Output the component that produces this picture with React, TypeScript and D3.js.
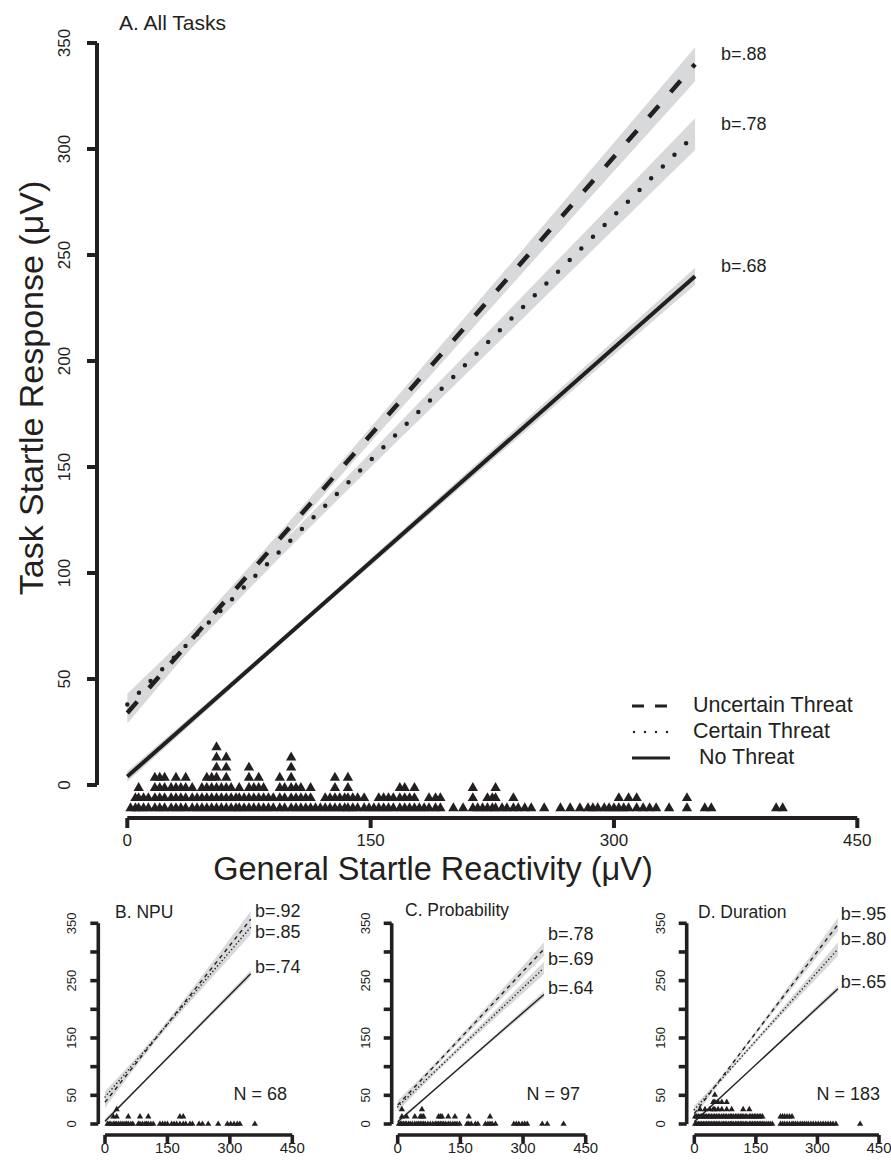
import React from "react";
import * as d3 from "d3";

const W = 891;
const H = 1163;
const FONT = "'Liberation Sans', Arial, Helvetica, sans-serif";
const INK = "#231f20";
const BAND = "#d8d9da";

// regression lines: fitted values at x = 0 and x = 350
const lineX = [0, 350];
const bandX = [0, 100, 200, 350];
const seriesNames = ["Uncertain Threat", "Certain Threat", "No Threat"];
const legendLabels = ["Uncertain Threat", "Certain Threat", " No Threat"];

const allUncertain = [34, 340];
const allCertain = [38, 307];
const allNone = [4, 240];
const allCI = [
  [5, 3, 4.5, 8],
  [5, 3, 4.5, 7.5],
  [2.5, 1.4, 2.2, 4],
];
const allSlopes = ["b=.88", "b=.78", "b=.68"];

const npuUncertain = [38, 357];
const npuCertain = [47, 343];
const npuNone = [5, 262];
const npuCI = [
  [10, 5, 7, 14],
  [10, 5, 7, 13],
  [4, 2, 3, 6],
];
const npuSlopes = ["b=.92", "b=.85", "b=.74"];

const probUncertain = [33, 305];
const probCertain = [30, 272];
const probNone = [4, 226];
const probCI = [
  [8, 4, 6, 12],
  [8, 4, 6, 11],
  [4, 2, 3, 6],
];
const probSlopes = ["b=.78", "b=.69", "b=.64"];

const durUncertain = [18, 348];
const durCertain = [25, 305];
const durNone = [4, 236];
const durCI = [
  [7, 3, 5, 12],
  [7, 3, 5, 12],
  [3, 1.5, 2.5, 5],
];
const durSlopes = ["b=.95", "b=.80", "b=.65"];

const xTicksMain = [0, 150, 300, 450];
const yTicksMain = [0, 50, 100, 150, 200, 250, 300, 350];
const yTickLabelsSmall = [0, 50, 150, 250, 350];

// general startle reactivity, stacked: [value, count]
const rugAll = [
  [2, 1], [5, 2], [7, 3], [10, 2], [13, 2], [17, 4], [20, 4], [23, 4], [27, 3], [30, 4],
  [33, 3], [36, 4], [40, 3], [43, 2], [46, 3], [49, 4], [52, 4], [55, 7], [58, 3], [61, 6],
  [64, 3], [67, 2], [69, 3], [72, 2], [75, 5], [78, 3], [81, 4], [84, 3], [87, 2], [90, 2],
  [94, 4], [97, 3], [101, 6], [104, 3], [107, 3], [110, 2], [113, 3], [116, 1], [119, 1],
  [122, 2], [125, 2], [128, 4], [131, 2], [134, 2], [136, 4], [139, 2], [142, 2], [146, 2],
  [149, 1], [152, 1], [155, 2], [158, 2], [161, 2], [164, 2], [168, 3], [171, 3], [174, 2],
  [177, 3], [180, 1], [183, 1], [186, 2], [190, 2], [193, 2], [201, 1], [207, 1], [213, 3],
  [216, 1], [219, 1], [222, 2], [225, 2], [227, 3], [231, 1], [234, 1], [238, 2], [241, 1],
  [245, 1], [249, 1], [257, 1], [267, 1], [273, 1], [279, 1], [284, 1], [287, 1], [290, 1],
  [294, 1], [297, 1], [300, 1], [303, 2], [306, 1], [309, 2], [314, 2], [318, 1], [322, 1],
  [326, 1], [334, 1], [345, 2], [356, 1], [360, 1], [400, 1], [404, 1],
];
const rugNpu = [
  [6, 1], [10, 1], [14, 1], [20, 2], [24, 1], [28, 3], [33, 1], [38, 1], [43, 1], [48, 1],
  [52, 1], [56, 2], [62, 1], [67, 1], [80, 1], [84, 2], [90, 1], [96, 1], [100, 1], [104, 2],
  [110, 1], [116, 1], [132, 1], [138, 1], [144, 1], [150, 1], [160, 1], [166, 1], [172, 1],
  [180, 2], [188, 2], [194, 1], [204, 1], [210, 1], [226, 1], [234, 1], [248, 1], [272, 1],
  [294, 1], [302, 1], [310, 1], [318, 1], [324, 1], [360, 1],
];
const rugProb = [
  [3, 1], [7, 1], [10, 3], [14, 1], [18, 1], [21, 2], [26, 1], [30, 1], [35, 1], [41, 2],
  [46, 1], [50, 1], [54, 2], [58, 3], [62, 2], [66, 1], [72, 1], [78, 1], [84, 1], [90, 1],
  [94, 1], [98, 2], [102, 2], [106, 2], [110, 1], [115, 1], [121, 2], [126, 1], [132, 1],
  [137, 2], [142, 1], [148, 1], [166, 1], [170, 2], [176, 1], [186, 1], [192, 1], [210, 1],
  [216, 1], [221, 2], [226, 1], [234, 1], [278, 1], [284, 1], [290, 1], [298, 1], [304, 1],
  [310, 1], [346, 1], [358, 1], [397, 1],
];
const rugDur = [
  [2, 2], [6, 2], [10, 2], [14, 3], [18, 2], [22, 2], [26, 3], [30, 2], [34, 2], [38, 3],
  [42, 2], [46, 4], [50, 5], [54, 2], [58, 4], [62, 2], [67, 4], [71, 2], [75, 2], [79, 4],
  [84, 2], [88, 2], [91, 3], [95, 2], [100, 2], [104, 2], [108, 2], [112, 2], [116, 2],
  [119, 3], [124, 2], [128, 2], [134, 3], [138, 2], [142, 2], [146, 2], [150, 2], [154, 2],
  [158, 2], [162, 2], [166, 2], [170, 1], [175, 1], [180, 1], [185, 1], [190, 1], [210, 2],
  [215, 2], [220, 2], [226, 2], [232, 2], [238, 2], [242, 1], [247, 1], [252, 1], [258, 1],
  [263, 1], [268, 1], [273, 1], [278, 1], [284, 1], [290, 1], [296, 1], [302, 1], [308, 1],
  [314, 1], [320, 1], [326, 1], [332, 1], [338, 1], [345, 1], [404, 1],
];

type PanelProps = {
  big: boolean;
  title: string;
  titleX: number;
  titleY: number;
  axisX: number;
  xRange: [number, number];
  yRange: [number, number];
  xAxisY: number;
  lines: number[][];
  ci: number[][];
  slopes: string[];
  slopeX: number;
  slopeY: number[];
  rug: number[][];
  rugBase: number;
  rugStep: number;
  n?: string;
  nX?: number;
};

function Panel(p: PanelProps) {
  const x = d3.scaleLinear().domain([0, 450]).range(p.xRange);
  const y = d3.scaleLinear().domain([0, 350]).range(p.yRange);
  const styles = p.big
    ? [
        { dash: "15 18", cap: "butt", w: 4.5 },
        { dash: "0 16.5", cap: "round", w: 4.5 },
        { dash: "", cap: "butt", w: 4 },
      ]
    : [
        { dash: "4 4", cap: "butt", w: 1.4 },
        { dash: "0 3.6", cap: "round", w: 1.6 },
        { dash: "", cap: "butt", w: 1.4 },
      ];
  const interp = (vals: number[], t: number) =>
    vals[0] + ((vals[1] - vals[0]) * (t - lineX[0])) / (lineX[1] - lineX[0]);
  const area = d3
    .area<[number, number, number]>()
    .x((d) => x(d[0]))
    .y0((d) => y(d[1] - d[2]))
    .y1((d) => y(d[1] + d[2]))
    .curve(d3.curveMonotoneX);
  const ln = d3
    .line<number>()
    .x((_, i) => x(lineX[i]))
    .y((d) => y(d));
  const tri = d3.symbol(d3.symbolTriangle, p.big ? 46 : 17)();
  const tickFs = p.big ? 17 : 13;
  const xTickFs = p.big ? 17 : 15;
  const yLabels = p.big ? yTicksMain : yTickLabelsSmall;
  const axW = p.big ? 4 : 3.6;
  const tickLen = p.big ? 10 : 8;

  return (
    <g fontFamily={FONT} fill={INK}>
      {p.lines.map((vals, i) => (
        <path
          key={"b" + i}
          d={area(bandX.map((bx, j) => [bx, interp(vals, bx), p.ci[i][j]]) as any) || ""}
          fill={BAND}
          stroke="none"
        />
      ))}
      {p.lines.map((vals, i) => (
        <path
          key={"l" + i}
          d={ln(vals) || ""}
          fill="none"
          stroke={INK}
          strokeWidth={styles[i].w}
          strokeDasharray={styles[i].dash || undefined}
          strokeLinecap={styles[i].cap as any}
        />
      ))}
      {p.rug.map(([v, c]) =>
        d3.range(c).map((k) => (
          <path
            key={"r" + v + "-" + k}
            d={tri || ""}
            transform={`translate(${x(v)},${y(p.rugBase + k * p.rugStep)})`}
            fill={INK}
          />
        ))
      )}
      {/* y axis */}
      <line x1={p.axisX} x2={p.axisX} y1={y(0)} y2={y(350)} stroke={INK} strokeWidth={axW} />
      {yTicksMain.map((t) => (
        <line key={"yt" + t} x1={p.axisX - tickLen} x2={p.axisX} y1={y(t)} y2={y(t)} stroke={INK} strokeWidth={axW} />
      ))}
      {yLabels.map((t) => (
        <text
          key={"yl" + t}
          transform={`translate(${p.axisX - (p.big ? 27 : 22)},${y(t)}) rotate(-90)`}
          textAnchor="middle"
          fontSize={tickFs}
        >
          {t}
        </text>
      ))}
      {/* x axis */}
      <line x1={x(0)} x2={x(450)} y1={p.xAxisY} y2={p.xAxisY} stroke={INK} strokeWidth={axW} />
      {xTicksMain.map((t) => (
        <line key={"xt" + t} x1={x(t)} x2={x(t)} y1={p.xAxisY} y2={p.xAxisY + tickLen} stroke={INK} strokeWidth={axW} />
      ))}
      {xTicksMain.map((t) => (
        <text
          key={"xl" + t}
          x={x(t)}
          y={p.xAxisY + (p.big ? 28 : 18)}
          textAnchor="middle"
          fontSize={xTickFs}
        >
          {t}
        </text>
      ))}
      <text x={p.titleX} y={p.titleY} fontSize={p.big ? 21 : 17.5}>
        {p.title}
      </text>
      {p.slopes.map((s, i) => (
        <text key={"s" + i} x={p.slopeX} y={p.slopeY[i]} fontSize={18} dominantBaseline="middle">
          {s}
        </text>
      ))}
      {p.n && (
        <text x={p.nX} y={1095} fontSize={18} textAnchor="end" dominantBaseline="middle">
          {p.n}
        </text>
      )}
    </g>
  );
}

function Legend() {
  const sx = 632;
  const ex = 670;
  const ys = [706, 732, 758];
  const dashes = ["12 11", "0 11", ""];
  return (
    <g fontFamily={FONT} fill={INK}>
      {seriesNames.map((s, i) => (
        <g key={s}>
          <line
            x1={i === 1 ? sx + 2 : sx}
            x2={ex}
            y1={ys[i]}
            y2={ys[i]}
            stroke={INK}
            strokeWidth={i === 1 ? 2.4 : 3}
            strokeDasharray={dashes[i] || undefined}
            strokeLinecap={i === 1 ? "round" : "butt"}
          />
          <text x={693} y={ys[i]} fontSize={21.5} dominantBaseline="middle" style={{ whiteSpace: "pre" }}>
            {legendLabels[i]}
          </text>
        </g>
      ))}
    </g>
  );
}

export default function App() {
  return (
    <svg
      width={W}
      height={H}
      viewBox={`0 0 ${W} ${H}`}
      style={{ position: "absolute", left: 0, top: 0, background: "#fff" }}
    >
      <rect width={W} height={H} fill="#fff" />
      <Panel
        big
        title="A. All Tasks"
        titleX={119}
        titleY={30}
        axisX={97}
        xRange={[127.3, 857.3]}
        yRange={[785, 43]}
        xAxisY={818}
        lines={[allUncertain, allCertain, allNone]}
        ci={allCI}
        slopes={allSlopes}
        slopeX={721}
        slopeY={[55, 125, 267]}
        rug={rugAll}
        rugBase={-11}
        rugStep={4.8}
      />
      <Legend />
      <text
        x={433}
        y={880}
        textAnchor="middle"
        fontFamily={FONT}
        fontSize={32.5}
        fill={INK}
      >
        General Startle Reactivity (μV)
      </text>
      <text
        transform="translate(43,388) rotate(-90)"
        textAnchor="middle"
        fontFamily={FONT}
        fontSize={34}
        fill={INK}
      >
        Task Startle Response (μV)
      </text>
      <Panel
        big={false}
        title="B. NPU"
        titleX={115}
        titleY={918}
        axisX={98.3}
        xRange={[105, 292.3]}
        yRange={[1124, 923.3]}
        xAxisY={1135}
        lines={[npuUncertain, npuCertain, npuNone]}
        ci={npuCI}
        slopes={npuSlopes}
        slopeX={255}
        slopeY={[912, 933, 968]}
        rug={rugNpu}
        rugBase={0}
        rugStep={12.7}
        n="N = 68"
        nX={287}
      />
      <Panel
        big={false}
        title="C. Probability"
        titleX={405}
        titleY={916}
        axisX={391.7}
        xRange={[397.7, 585.7]}
        yRange={[1124, 923.3]}
        xAxisY={1135}
        lines={[probUncertain, probCertain, probNone]}
        ci={probCI}
        slopes={probSlopes}
        slopeX={548}
        slopeY={[935, 960, 989]}
        rug={rugProb}
        rugBase={0}
        rugStep={12.7}
        n="N = 97"
        nX={580}
      />
      <Panel
        big={false}
        title="D. Duration"
        titleX={698}
        titleY={918}
        axisX={686.7}
        xRange={[694.3, 879]}
        yRange={[1124, 923.3]}
        xAxisY={1135}
        lines={[durUncertain, durCertain, durNone]}
        ci={durCI}
        slopes={durSlopes}
        slopeX={840.7}
        slopeY={[915, 940, 983]}
        rug={rugDur}
        rugBase={0}
        rugStep={12.7}
        n="N = 183"
        nX={880}
      />
    </svg>
  );
}
